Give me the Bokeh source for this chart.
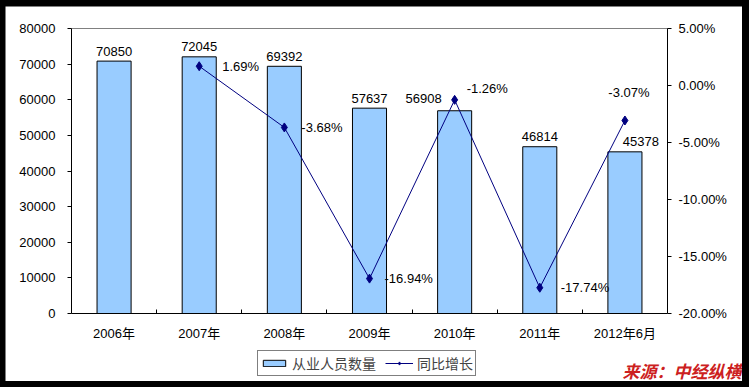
import numpy as np
from bokeh.plotting import figure
from bokeh.models import (ColumnDataSource, LinearAxis, Range1d, FixedTicker,
                          PrintfTickFormatter, Legend, LegendItem, Label)
from bokeh.core.properties import value
from bokeh.embed import file_html
from bokeh.resources import INLINE
try:
    from bokeh.models import GlobalInlineStyleSheet
except Exception:
    GlobalInlineStyleSheet = None

# ---------------- data ----------------
categories = ["2006年", "2007年", "2008年", "2009年", "2010年", "2011年", "2012年6月"]
employees = [70850, 72045, 69392, 57637, 56908, 46814, 45378]
growth_categories = ["2007年", "2008年", "2009年", "2010年", "2011年", "2012年6月"]
growth_pct = [1.69, -3.68, -16.94, -1.26, -17.74, -3.07]
left_ticks = [0, 10000, 20000, 30000, 40000, 50000, 60000, 70000, 80000]
right_ticks = [-20, -15, -10, -5, 0, 5]
series_names = ["从业人员数量", "同比增长"]
source_text = "来源：中经纵横"

# ---------------- layout / styles (screen px) ----------------
W, H = 737, 375
FRAME_L, FRAME_R, FRAME_T, FRAME_B = 66, 662, 22, 307
bar_dx = [0, 0, 0, 0, -31, 0, 16]
bar_dy = [-10, -10, -10, -10, -12, -10, -10]
pct_dx = [23, 17, 15, 12, 21, 4]
pct_dy = [0, 0, 0, -11, 0, -28]
pct_align = ["left", "left", "left", "left", "left", "center"]

NUM_FONT = "Liberation Sans"
CJK_FONT = "Noto Sans CJK SC"

n = len(categories)
pos = {c: i + 0.5 for i, c in enumerate(categories)}

# ranges chosen so the plotting area covers the whole canvas and the
# value axes sit at the reference positions
ux = n / (FRAME_R - FRAME_L)
x_range = Range1d(-FRAME_L * ux, n + (W - FRAME_R) * ux)
uy = (left_ticks[-1] - left_ticks[0]) / (FRAME_B - FRAME_T)
y_range = Range1d(left_ticks[0] - (H - FRAME_B) * uy, left_ticks[-1] + FRAME_T * uy)
up = (right_ticks[-1] - right_ticks[0]) / (FRAME_B - FRAME_T)
pct_range = Range1d(right_ticks[0] - (H - FRAME_B) * up, right_ticks[-1] + FRAME_T * up)

bar_src = ColumnDataSource(dict(
    x=[pos[c] for c in categories],
    v=employees,
    label=[str(v) for v in employees],
    dx=bar_dx, dy=bar_dy,
))
line_src = ColumnDataSource(dict(
    x=[pos[c] for c in growth_categories],
    v=growth_pct,
    label=["%.2f%%" % v for v in growth_pct],
    dx=pct_dx, dy=pct_dy, align=pct_align,
))

p = figure(width=W, height=H, x_range=x_range, y_range=y_range,
           output_backend="svg", toolbar_location=None,
           x_axis_location=None, y_axis_location=None,
           min_border=0, min_border_left=0, min_border_right=0,
           min_border_top=0, min_border_bottom=0,
           background_fill_color="white", border_fill_color="white",
           outline_line_color=None)
p.extra_y_ranges = {"pct": pct_range}
p.xgrid.visible = False
p.ygrid.visible = False

# x axis (category axis along value 0)
xa = LinearAxis(fixed_location=left_ticks[0], bounds=(0, n),
                ticker=FixedTicker(ticks=[pos[c] for c in categories],
                                   minor_ticks=list(range(1, n))))
xa.major_label_overrides = {pos[c]: c for c in categories}
xa.major_tick_in = 0
xa.major_tick_out = 0
xa.minor_tick_in = 4
xa.minor_tick_out = 0
xa.minor_tick_line_color = "black"
xa.axis_line_color = "black"
xa.major_label_standoff = 12
xa.major_label_text_font = "Liberation Sans, Noto Sans CJK SC"
xa.major_label_text_font_size = "13px"
xa.major_label_text_color = "black"
p.add_layout(xa, "below")

# top border of the plot area
ta = LinearAxis(fixed_location=left_ticks[-1], bounds=(0, n),
                ticker=FixedTicker(ticks=[]), axis_line_color="#808080",
                major_tick_line_color=None, minor_tick_line_color=None)
p.add_layout(ta, "above")

# left axis
ya = LinearAxis(fixed_location=0, bounds=(left_ticks[0], left_ticks[-1]),
                ticker=FixedTicker(ticks=left_ticks))
ya.major_tick_in = 0
ya.major_tick_out = 4
ya.minor_tick_line_color = None
ya.axis_line_color = "black"
ya.major_label_standoff = 12
ya.major_label_text_font = NUM_FONT
ya.major_label_text_font_size = "13px"
ya.major_label_text_color = "black"
p.add_layout(ya, "left")

# right axis
ra = LinearAxis(y_range_name="pct", fixed_location=n,
                bounds=(right_ticks[0], right_ticks[-1]),
                ticker=FixedTicker(ticks=right_ticks),
                formatter=PrintfTickFormatter(format="%.2f%%"))
ra.major_tick_in = 0
ra.major_tick_out = 4
ra.minor_tick_line_color = None
ra.axis_line_color = "black"
ra.major_label_standoff = 7
ra.major_label_text_font = NUM_FONT
ra.major_label_text_font_size = "13px"
ra.major_label_text_color = "black"
p.add_layout(ra, "right")

bars = p.vbar(x="x", top="v", bottom=left_ticks[0], width=0.4, source=bar_src,
              fill_color="#99ccff", line_color="black", line_width=1)
p.text(x="x", y="v", text="label", source=bar_src, text_align="center",
       text_baseline="alphabetic", x_offset="dx", y_offset="dy",
       text_font=value(NUM_FONT), text_font_size="13px", text_color="black")

ln = p.line(x="x", y="v", source=line_src, y_range_name="pct",
            line_color="#000080", line_width=1)
mk = p.scatter(x="x", y="v", source=line_src, y_range_name="pct",
               marker="diamond", size=9, fill_color="#000080",
               line_color="#000080")
p.text(x="x", y="v", text="label", source=line_src, y_range_name="pct",
       x_offset="dx", y_offset="dy", text_align="align",
       text_baseline="middle", text_font=value(NUM_FONT),
       text_font_size="13px", text_color="black")

legend = Legend(items=[LegendItem(label=series_names[0], renderers=[bars]),
                       LegendItem(label=series_names[1], renderers=[ln, mk])],
                orientation="horizontal", location=(252, 5),
                border_line_color="black", border_line_width=1,
                background_fill_color="white", background_fill_alpha=1,
                label_text_font=CJK_FONT, label_text_font_size="14px",
                label_height=16, glyph_width=28, glyph_height=8,
                padding=2, spacing=9, label_standoff=4, margin=0)
p.add_layout(legend)

src = Label(x=W - 1, y=24, x_units="screen", y_units="screen",
            text=source_text, text_align="right", text_baseline="top",
            text_color="#cc2020", text_font=CJK_FONT, text_font_size="17px",
            text_font_style="bold italic")
p.add_layout(src)

if GlobalInlineStyleSheet is not None:
    p.stylesheets = [GlobalInlineStyleSheet(
        css="html, body { background-color: #000000; } body { padding: 6px 0 0 5px; }")]

open("out.html", "w").write(file_html(p, INLINE))
